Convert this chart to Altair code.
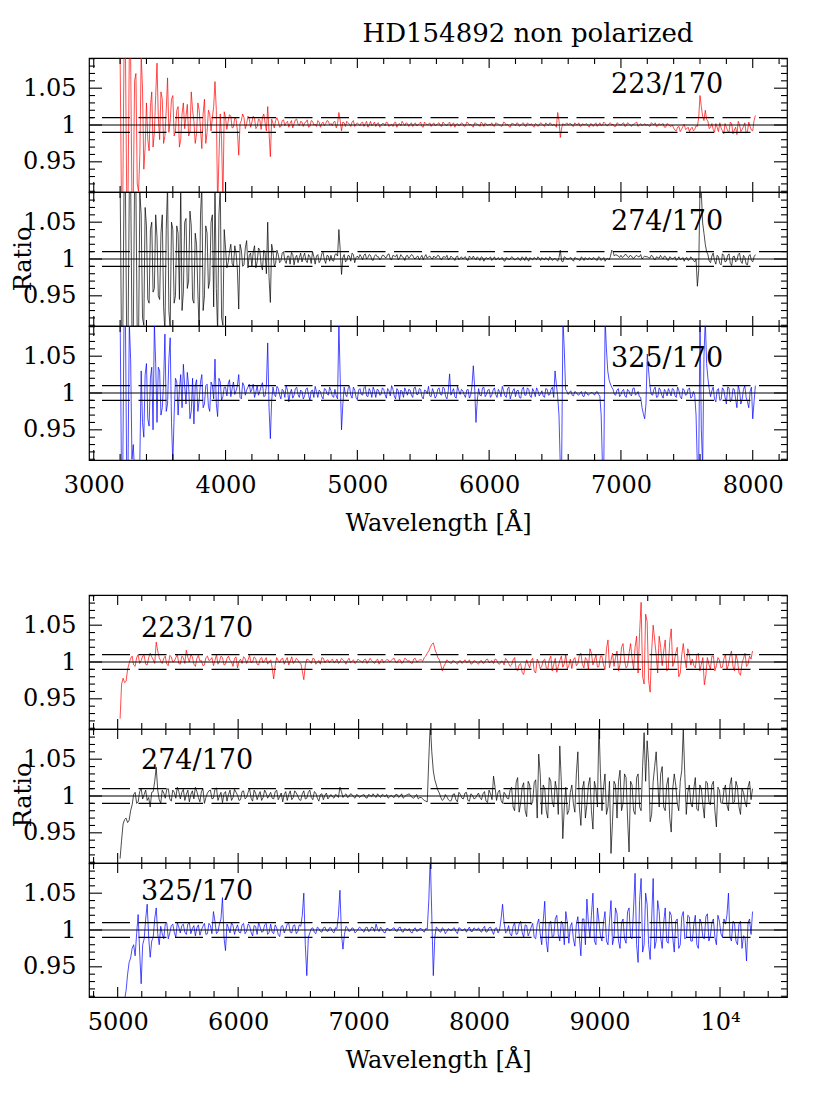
import altair as alt
import numpy as np
import pandas as pd

FONT = "DejaVu Serif"
W, H = 698, 134

# ---- wavelength sampling of the read-off spectra (Angstrom) ----
# main samples at START + STEP*i, intermediate samples at START + STEP/2 + STEP*i
TOP_START, TOP_STEP = 3200, 20
BOT_START, BOT_STEP = 5020, 25

# ---- ratio deviations, in units of 0.001 (ratio = 1 + v/1000) ----
top_223_170 = [
    95, -110, 110, -100, 90, -95, 70, -90, 95, -60,
    30, -35, 45, -10, 84, -20, 35, -15, 64, 5,
    40, -8, 25, -20, 30, 12, -15, 45, 5, -12,
    20, -32, 35, -10, 15, 10, 59, -110, 15, -105,
    10, 5, 12, -3, 8, -41, 6, 10, 2, 8,
    4, 9, -2, 7, 10, 3, 25, -43, 2, 6,
    5, -2, 7, 3, -3, 6, 2, 8, -1, 4,
    3, 7, -2, 5, 1, 6, -3, 4, 2, 5,
    2, 4, -4, 17, -8, 3, 5, 1, 4, -2,
    3, -1, 4, 2, -3, 5, 1, -2, 3, 0,
    2, 4, -2, 1, 3, -3, 2, 5, -1, 2,
    1, -2, 3, 0, 4, -3, 2, 1, -2, 3,
    0, 3, -2, 2, -1, 4, 1, -3, 2, 0,
    2, -1, 3, 1, -3, 2, 0, 4, -2, 1,
    1, 3, -2, 2, 0, -1, 3, 1, -3, 2,
    -1, 2, 0, 3, -2, 1, 2, -3, 1, 0,
    2, -2, 1, 3, -1, 0, 17, -17, 2, 1,
    0, 2, -2, 1, 3, -1, 0, 2, -3, 1,
    1, -2, 3, 0, 2, -1, 3, 1, -2, 2,
    0, 3, -1, 2, -2, 1, 4, 0, -1, 2,
    1, -2, 2, 3, -1, 0, 2, -3, 1, -2,
    -4, -8, -2, -6, 1, -5, -9, -3, -6, -2,
    40, 12, 20, 5, -3, -6, 2, -9, -4, -12,
    -3, -10, 2, -7, -13, 0, -6, 3, -9, -2,
    -8, 13,
]
top_223_170_mid = [
    -100, 105, -95, 100, -105, 60, -80, -40, 50, -30,
    -20, 25, -30, 40, 10, 45, -25, 20, -10, 35,
    -15, 20, -30, 15, -5, 28, -10, 20, -25, 30,
    -5, 15, -25, 20, -8, 25, 20, -45, -20, 18,
    -6, 14, -4, 10, -8, 2, 15, -5, 12, -3,
    12, -5, 8, -6, 15, -8, -10, 8, -4, 10,
    -3, 6, -1, 5, 2, -4, 7, 1, 5, -2,
    4, -3, 6, 0, -2, 4, 2, -1, 6, 0,
    -1, 5, 2, 6, 4, -2, 3, -2, 6, 1,
    1, 3, -2, 5, 0, -1, 4, 2, -3, 2,
    -1, 3, 0, -2, 4, 1, -1, 2, 3, -2,
    3, 1, -1, 2, -2, 4, 0, 3, 1, -1,
    2, -1, 4, 0, 2, -2, 3, 1, -1, 3,
    -2, 4, 0, -1, 3, 1, -2, 2, 3, -1,
    0, -1, 3, 1, -2, 4, 0, -2, 2, 1,
    3, -2, 2, -1, 3, 0, -1, 2, -2, 3,
    0, 3, -1, 2, 1, -3, 6, -4, 0, 3,
    2, -1, 3, 0, -2, 2, 1, -1, 2, -2,
    3, 0, -1, 4, -1, 2, 0, -2, 3, 0,
    2, -2, 3, 0, 1, 3, -2, 2, 0, -1,
    -1, 3, 0, -2, 2, 1, -3, 2, -1, 0,
    -7, -3, -9, -2, -6, -3, -5, -8, -1, 10,
    25, 6, 8, -5, 2, -10, -3, 3, -8, 2,
    -8, 4, -12, -3, 5, -9, -2, -11, 4, -7,
    6,
]
top_274_170 = [
    110, -110, 105, -110, 110, -100, 95, -110, 60, -90,
    45, -60, 50, -40, 30, -55, 60, -100, 100, -95,
    40, -50, 35, 100, -45, 55, -30, 45, -60, 20,
    -100, 100, -50, 35, -30, 60, 100, -100, 100, -90,
    15, -5, 20, -10, 8, -68, 12, -8, 25, 5,
    -10, 18, -4, 12, -15, 8, 50, -59, 10, -6,
    6, -3, 10, -6, 4, 9, -8, 5, 2, -4,
    8, -5, 3, 10, -7, 6, -2, 9, -6, 4,
    5, -3, 7, 40, -21, 6, -2, 4, 8, -5,
    4, 6, -1, 7, 2, 5, -2, 6, 3, 1,
    5, 2, 7, -1, 4, 6, 1, 3, -2, 5,
    3, 5, 0, 4, 2, -1, 6, 3, 1, 4,
    2, 4, -1, 3, 5, 0, 2, -2, 4, 1,
    0, 3, -2, 2, 4, -1, 1, 3, -3, 2,
    1, -2, 3, 0, -1, 2, -3, 1, 0, 2,
    -1, 2, -2, 1, 3, -3, 0, 2, -1, 1,
    2, -1, 0, 3, -2, 1, -3, 12, -4, 2,
    0, 2, -3, 1, -1, 3, -2, 0, 2, -1,
    1, -2, 2, 0, -3, 1, 3, 10, 6, 4,
    5, 3, 6, 2, 4, 1, 5, 3, 0, 4,
    3, 1, 4, -1, 2, 5, 0, 3, -2, 2,
    1, -2, 3, 0, -3, 2, -1, 1, -4, -37,
    100, 49, 20, 6, -5, 8, -7, 3, -8, 5,
    -3, 7, -9, 4, -2, 8, -6, 2, -8, 6,
    -4, 6,
]
top_274_170_mid = [
    -105, 100, -110, 100, -95, 110, -105, 90, -80, 70,
    -55, 40, -45, 60, -50, 35, -65, 40, -70, 50,
    -60, 45, -55, -70, 50, -40, 65, -55, 35, -45,
    60, -70, 45, -40, 50, -65, -40, 60, -80, 40,
    -12, 10, -6, 18, -15, 20, -10, 15, -12, 8,
    10, -12, 15, -8, 12, -20, -25, 20, -10, 12,
    -5, 8, -2, 4, -7, 6, 2, -5, 8, 3,
    -2, 6, -6, 3, 4, -5, 7, -1, 5, -3,
    -2, 6, 4, 12, 2, -4, 5, -3, 6, 2,
    1, 3, 5, 0, 6, -1, 4, 3, -1, 5,
    2, 6, 0, 5, 3, -1, 6, 2, 4, 1,
    6, 1, 3, -1, 5, 3, 1, 4, 0, 2,
    5, 0, 3, 2, -1, 4, 1, 3, -1, 3,
    2, -1, 4, 0, 1, 3, -2, 2, 1, 0,
    3, 0, -1, 2, 1, -2, 2, -1, 3, -1,
    1, -1, 3, -2, 0, 2, -1, 1, 3, -2,
    0, 2, -2, 1, 0, -1, 2, -3, 3, 0,
    1, -1, 2, 0, -2, 1, 2, -1, 0, 2,
    -1, 3, -2, 2, 0, -1, 12, 4, 5, 2,
    2, 6, 3, 5, 1, 4, 3, 6, 2, 3,
    2, 5, 0, 3, 1, 2, 4, -1, 3, 0,
    3, 0, -1, 2, 1, -2, 3, -2, 0, -15,
    90, 35, 10, -3, 4, -2, 5, -6, 7, -4,
    5, -6, 3, -4, 6, -3, 5, -7, 4, -2,
    3,
]
top_325_170 = [
    110, -110, 110, -100, 45, -70, -100, -95, 30, -60,
    40, -45, 35, 95, -40, 30, -20, 80, -15, 75,
    -95, 20, -30, 25, 39, -15, 10, -25, -42, 18,
    -10, 25, -15, 12, -25, 10, 46, -32, 15, -5,
    8, 12, -5, 15, 3, 25, -8, 10, 4, 12,
    5, -6, 10, 2, 14, -4, 68, -62, 8, -5,
    6, -8, 3, 10, -12, 5, -3, 8, -6, 2,
    -4, 7, -10, 4, 9, -6, 2, -8, 5, -3,
    3, -6, -4, 95, -50, 8, -5, 10, -7, 4,
    -9, 6, -3, 9, -5, 2, 8, -6, 4, -2,
    5, -7, 3, 10, -4, 6, -9, 2, 7, -3,
    4, -6, 8, -2, 5, -8, 3, 9, -5, 1,
    -4, 7, -3, 6, -8, 26, 2, -5, 9, -2,
    3, -6, 5, -3, 37, -40, 6, -4, 8, -2,
    5, -3, 7, -6, 2, 9, -4, 6, -8, 3,
    -5, 4, -7, 8, -3, 5, -6, 2, 7, -4,
    3, -6, 5, -2, 8, 30, -5, -100, 100, 5,
    -2, 3, -4, 1, -3, 2, -5, 0, -2, 1,
    -3, 2, -4, -100, 100, 30, 12, 5, -3, 6,
    -2, 5, -6, 3, -4, 7, -1, -5, -20, -35,
    53, 10, -3, 8, -5, 4, -7, 2, 6, -4,
    5, -6, 3, -8, 4, -2, 7, -5, -3, -100,
    100, -100, 100, 20, -5, 8, -12, 6, -9, 4,
    -15, 7, -10, 5, -20, 3, -8, 10, -12, 2,
    -35, 10,
]
top_325_170_mid = [
    -105, 105, -110, 95, -90, -110, -105, -90, -40, 25,
    -35, 20, -50, 40, 35, -30, 15, -25, 45, -40,
    -30, 15, 5, -20, 10, 28, -35, 20, 10, -25,
    15, -20, 10, -18, 15, -8, -15, 20, -10, 8,
    -4, 18, 6, -2, 10, -6, 14, -3, 8, 1,
    12, 1, -3, 9, -5, 10, -20, -10, -2, 9,
    -3, 5, -6, 4, 0, -7, 6, -2, 4, -8,
    5, -3, 3, -6, 2, 4, -5, 6, -1, 8,
    -4, 5, -8, 20, -15, -2, 6, -3, 8, -6,
    4, -2, 7, -4, 6, -6, 3, 5, -3, 7,
    -2, 6, -4, 5, -8, 3, 4, -6, 2, 5,
    -3, 7, -2, 6, -5, 4, -1, -4, 6, -7,
    5, -2, 8, -5, 3, -3, 6, -7, 3, 5,
    -2, 4, -7, 10, 8, -10, -3, 7, -5, 4,
    -6, 4, -2, 5, -5, 3, -6, 8, -2, 6,
    3, -6, 5, -3, 7, -4, 6, -5, 3, -1,
    -4, 6, -3, 5, -6, 12, -30, -100, 60, 2,
    1, -3, 2, -2, 0, -4, 2, -3, 0, -1,
    1, -2, -30, -100, 60, 18, 8, -2, 4, -5,
    3, -4, 5, -2, 6, -3, 2, -6, -28, -15,
    30, -2, 5, -6, 7, -3, 5, -4, 2, 6,
    -4, 8, -5, 6, -3, 5, -7, 2, -30, -100,
    -50, 50, 40, 5, 3, -8, 4, -10, 7, -6,
    8, -12, 6, -8, 10, -15, 5, -6, -20, 8,
    -12,
]
bot_223_170 = [
    -77, -22, -26, -2, 8, -6, 10, 2, 9, -4,
    12, 3, 27, 6, -2, 8, -5, 7, 1, 10,
    -3, 6, 16, 0, 7, -6, 9, 2, -4, 8,
    3, -5, 10, 1, 6, -3, 8, 0, 5, -8,
    4, 7, -2, 9, 0, 5, -4, 6, 2, -3,
    3, -23, 6, -1, 5, 2, -4, 7, 0, 3,
    -2, -24, 4, 1, 5, -3, 2, 6, -1, 3,
    2, -1, 4, 0, 3, -3, 5, 1, -2, 4,
    1, 3, -2, 5, 0, 2, -3, 4, 1, 3,
    2, 5, -1, 3, 0, 4, 2, -2, 5, 1,
    3, 6, 12, 20, 26, 12, 3, -12, -2, 1,
    -2, 1, -3, 2, 0, -1, 3, -2, 1, -3,
    2, -1, 4, 0, -2, 3, -3, 1, 5, -2,
    -4, 6, -12, -2, -17, 3, -8, 5, -15, -1,
    -6, 4, -10, 8, -3, -14, 2, -7, 10, -5,
    -9, 6, -2, 12, -8, 3, 18, -4, 10, -6,
    8, -10, 30, 2, -6, 15, -3, 25, -8, 12,
    5, 20, -15, 81, -30, 55, -41, 50, 10, 35,
    -5, 30, -10, 45, 0, 20, -15, 25, -8, 10,
    4, -8, 12, -3, -31, 6, -10, 8, -5, 3,
    -7, 10, -4, 15, -12, 2, -18, 5, -6, 8,
    15,
]
bot_223_170_mid = [
    -30, -28, -10, 5, -4, 6, -2, 8, -3, 6,
    7, -2, 15, 1, 5, -3, 9, 0, 6, -2,
    8, -2, 6, 10, -3, 5, 1, -5, 6, 2,
    6, 2, -3, 8, -4, 5, 2, -6, 7, 1,
    -2, 5, 3, -1, 7, -3, 4, -1, 6, 0,
    -8, -5, 2, 4, -3, 6, 1, -2, 5, -1,
    -12, -5, 3, -2, 4, 0, -3, 5, 2, -1,
    4, 0, -2, 5, 1, 2, -1, 3, 0, 2,
    -1, 4, 1, 2, -2, 4, 1, -1, 3, 0,
    4, 0, 3, -2, 5, 1, -1, 4, 0, 3,
    1, 8, 15, 24, 18, 6, -4, -6, 3, -1,
    2, -1, 1, -2, 3, 0, -3, 2, -1, 1,
    -2, 3, -1, 2, 4, -2, 1, -4, 2, -6,
    3, -10, -4, -14, -6, -3, 2, -12, 4, -9,
    2, -8, 3, -12, 5, -6, 8, -2, -9, 4,
    3, -5, 9, -3, 6, -10, 12, 2, -7, 8,
    -4, 18, -8, 12, 6, -12, 20, 2, -5, 25,
    -10, 35, 40, -20, 65, -25, 15, 30, -15, 20,
    15, -12, 28, -6, 12, -20, 10, 5, 18, -4,
    -5, 9, -12, 6, -18, -3, 8, -12, 6, -8,
    5, -10, 8, -6, 10, -15, -2, 12, -3, 4,
]
bot_274_170 = [
    -85, -38, -30, -33, -12, 5, -8, 10, 2, -6,
    -15, 6, 39, -5, 8, -3, 10, -7, 5, 12,
    -4, 9, 2, -8, 7, 12, -2, 6, -10, 4,
    8, -3, 11, 0, -9, 6, 2, -6, 9, 1,
    -5, 7, -2, 10, -7, 4, 1, -6, 8, -3,
    5, -4, 8, -1, -8, 6, 2, -5, 7, 0,
    -6, 7, -3, 8, -5, 4, -7, 3, 1, -4,
    2, -3, 1, 12, -2, 3, -1, 2, -3, 1,
    0, 2, -3, 1, 3, -2, 0, 2, -1, -3,
    1, -2, 2, 0, -3, 1, 3, -2, 0, -4,
    -2, -6, -8, 100, 34, 15, 4, -6, 2, -5,
    -6, 3, -8, 2, -4, 5, -7, 1, -3, 4,
    -5, 6, -9, 3, 27, -6, 8, -10, 2, -4,
    12, -20, 25, -10, 18, -28, 15, -8, 22, 57,
    -25, 10, -30, 20, -15, 8, 68, -58, 12, -20,
    15, -22, 60, -40, 20, -12, 25, -45, 10, 100,
    -20, 30, -15, -78, 20, -30, 35, -10, 25, -76,
    15, -25, 30, -20, 86, 75, -35, 20, 60, -15,
    40, -20, 25, -49, 30, -10, 20, 91, -25, 15,
    -15, 25, -20, 10, -30, 18, -12, 20, -42, 8,
    -10, 15, -20, 25, -8, 12, -25, 5, -15, 20,
    10,
]
bot_274_170_mid = [
    -60, -32, -36, -20, 2, -10, 6, -4, 8, -2,
    5, 20, 8, -10, 4, 9, -4, 8, -3, 6,
    5, -6, 8, 2, -4, 6, -8, 10, -2, 7,
    -4, 9, -6, 5, 3, -7, 8, -2, 5, -6,
    6, -4, 5, -3, 8, -5, 6, -2, 4, 1,
    -3, 6, -5, 4, 2, -6, 7, -2, 4, -5,
    3, -4, 5, -2, 6, -3, 2, -5, 4, -1,
    -1, 2, -2, 6, 1, -2, 3, -1, 2, -2,
    1, -2, 2, -1, 0, 3, -2, 1, 2, -1,
    -1, 2, -2, 3, -1, 2, 0, -3, 2, -2,
    -4, -7, 50, 60, 22, 8, -2, -4, -1, -7,
    2, -5, 5, -3, 4, -6, 3, -4, 1, -2,
    3, -7, 8, -5, 12, 5, -6, 5, -3, 8,
    -15, 18, -22, 12, -20, 20, -12, 18, -30, 30,
    15, -20, 25, -8, 20, -25, 20, -15, -25, 5,
    -10, 30, -15, 10, -30, 15, -20, 20, -15, 30,
    10, -25, 20, -35, 15, 20, -20, 30, -30, 20,
    -20, 25, -15, 40, 20, 45, -25, 40, 20, 30,
    -15, 15, -30, 10, 15, -20, 35, 30, 5, -10,
    10, -18, 15, -12, 20, -8, 15, -20, 12, -10,
    8, -12, 15, -10, 20, -15, 10, -8, 12, -5,
]
bot_325_170 = [
    -110, -100, -82, -44, -25, -35, 21, -73, -12, 35,
    -37, -10, 30, -20, -5, 8, -12, 6, -3, 10,
    -4, 8, -6, 10, 2, -8, 7, 0, 9, -5,
    6, 25, -5, 8, 44, -28, 3, 10, -6, 7,
    -4, 9, -2, 6, -8, 5, 10, -3, 7, -6,
    8, -5, 3, -9, 6, 1, 9, -4, 7, -2,
    5, 50, -62, -4, 3, -5, 2, -3, 4, -2,
    3, -4, 2, 54, -26, 5, -2, 3, -4, 1,
    2, -3, 4, -1, 3, 8, -2, 1, -4, 2,
    0, 3, -2, 4, -3, 1, 2, -4, 3, -1,
    2, -3, 1, 100, -62, 4, -2, 3, -5, 2,
    -1, 3, -5, 2, 0, -3, 4, -2, 1, 3,
    -3, 5, -2, 4, -6, 3, 0, 35, -4, 6,
    -8, 10, -5, 12, -10, 6, -3, 9, -12, 15,
    -20, 39, -30, 12, -8, 20, -15, 8, 25, -18,
    10, -22, 18, -35, 15, 42, -10, 50, -20, 12,
    -15, 25, -20, 40, -10, 22, -25, 15, -18, 30,
    -12, 77, -44, 70, -20, 35, -40, 70, -15, 25,
    -25, 30, -18, 20, -30, 15, -20, 25, -10, 18,
    -15, 20, -25, 10, -12, 22, -8, 15, -20, 12,
    -10, 8, 50, -15, 10, -20, 12, -8, -42, 15,
    25,
]
bot_325_170_mid = [
    -105, -95, -60, -38, -20, -5, -30, -20, 15, -10,
    -15, 15, -5, 5, -12, 10, -4, 8, -10, 4,
    6, -3, 8, -5, 6, 3, -7, 5, -6, 9,
    -5, 12, -2, 15, -10, 8, -4, 6, 2, -3,
    7, -5, 8, -3, 6, -6, 4, -2, 9, -3,
    -3, 7, -6, 5, -4, 8, -3, 6, -5, 7,
    20, -20, -10, 2, -3, 4, -2, 3, -1, 3,
    -2, 3, 20, -5, -6, 3, -1, 2, -2, 4,
    -1, 3, -2, 4, -2, 1, 4, -3, 2, -1,
    2, -1, 3, -2, 2, -1, -3, 1, -2, 2,
    -1, 2, 40, 20, -10, 2, -3, 1, -2, 0,
    2, -2, 3, -1, 2, 1, -2, 3, 0, -1,
    2, -3, 3, -1, 2, -4, 15, 10, -2, -5,
    5, -6, 8, -3, 7, -8, 4, -10, 8, -5,
    12, -15, 10, -10, 15, -6, 12, -20, 10, 5,
    -12, 8, -10, 15, -20, 10, 20, -15, 30, -8,
    10, -15, 12, -20, 30, -15, 10, -12, 25, -10,
    30, -20, 40, -30, 50, -20, 15, -25, 40, -10,
    10, -15, 25, -10, 12, -25, 18, -12, 20, -15,
    8, -20, 15, -10, 18, -15, 10, -10, 20, -5,
    15, 20, -10, 12, -15, 8, -25, -10, 10, -6,
]

# ---- axes ----
TOP_XDOMAIN = [2964, 8260]
BOT_XDOMAIN = [4762, 10556]
YDOMAIN = [0.909, 1.091]

TOP_X_LABELS = [3000, 4000, 5000, 6000, 7000, 8000]
TOP_X_MINOR = [3200, 3400, 3600, 3800, 4200, 4400, 4600, 4800, 5200, 5400, 5600, 5800,
               6200, 6400, 6600, 6800, 7200, 7400, 7600, 7800, 8200]
BOT_X_LABELS = [5000, 6000, 7000, 8000, 9000, 10000]
BOT_X_MINOR = [4800, 5200, 5400, 5600, 5800, 6200, 6400, 6600, 6800, 7200, 7400, 7600, 7800,
               8200, 8400, 8600, 8800, 9200, 9400, 9600, 9800, 10200, 10400]
Y_LABELS = [0.95, 1.0, 1.05]
Y_MINOR = [0.91, 0.92, 0.93, 0.94, 0.96, 0.97, 0.98, 0.99,
           1.01, 1.02, 1.03, 1.04, 1.06, 1.07, 1.08, 1.09]
REF_SOLID = [1.0]
REF_DASHED = [0.99, 1.01]

TITLE = "HD154892 non polarized"
X_TITLE = "Wavelength [Å]"
Y_TITLE = "Ratio"


def series(start, step, main, mid):
    wl = np.concatenate([start + step * np.arange(len(main)),
                         start + step / 2 + step * np.arange(len(mid))])
    dev = np.concatenate([np.asarray(main, dtype=float), np.asarray(mid, dtype=float)])
    order = np.argsort(wl, kind="stable")
    return pd.DataFrame({"wl": wl[order], "ratio": 1 + dev[order] / 1000.0})


def panel(df, color, label, lx, ly, xdom, xmaj, xmin, with_xaxis, extra=()):
    xs = alt.Scale(domain=xdom, nice=False, zero=False)
    ys = alt.Scale(domain=YDOMAIN, nice=False, zero=False)
    if with_xaxis:
        xaxis = alt.Axis(values=xmaj, format="d",
                         labelExpr="datum.value == 10000 ? '10\u2074' : datum.label",
                         title=X_TITLE, domain=False, ticks=False, tickSize=0, grid=False,
                         labelFont=FONT, labelFontSize=24, labelPadding=13, labelColor="black",
                         labelFlush=False, labelOverlap=False,
                         titleFont=FONT, titleFontSize=24, titleFontWeight="normal",
                         titlePadding=14, titleColor="black")
    else:
        xaxis = None
    yaxis = alt.Axis(values=Y_LABELS,
                     labelExpr="datum.value == 1 ? '1' : format(datum.value, '.2f')",
                     title=None, domain=False, ticks=False, tickSize=0, grid=False,
                     labelFont=FONT, labelFontSize=24, labelPadding=13, labelColor="black",
                     labelOverlap=False)

    def X(f):
        return alt.X(f, type="quantitative", scale=xs, axis=xaxis)

    def Y(f):
        return alt.Y(f, type="quantitative", scale=ys, axis=yaxis)

    layers = []
    layers.append(alt.Chart(df).mark_line(color=color, strokeWidth=0.7, clip=True)
                  .encode(x=X("wl"), y=Y("ratio")))
    layers.append(alt.Chart(pd.DataFrame({"y": REF_DASHED}))
                  .mark_rule(color="black", strokeWidth=1.1, strokeDash=[28, 8.5])
                  .encode(y=Y("y")))
    layers.append(alt.Chart(pd.DataFrame({"y": REF_SOLID}))
                  .mark_rule(color="black", strokeWidth=1.1)
                  .encode(y=Y("y")))

    for vals, ln in ((xmaj, 10), (xmin, 6)):
        base = alt.Chart(pd.DataFrame({"v": vals}))
        layers.append(base.mark_rule(color="black", strokeWidth=1.1)
                      .encode(x=X("v"), y=alt.value(H), y2=alt.value(H - ln)))
        layers.append(base.mark_rule(color="black", strokeWidth=1.1)
                      .encode(x=X("v"), y=alt.value(0), y2=alt.value(ln)))
    for vals, ln in ((Y_LABELS, 13), (Y_MINOR, 6)):
        base = alt.Chart(pd.DataFrame({"v": vals}))
        layers.append(base.mark_rule(color="black", strokeWidth=1.1)
                      .encode(y=Y("v"), x=alt.value(0), x2=alt.value(ln)))
        layers.append(base.mark_rule(color="black", strokeWidth=1.1)
                      .encode(y=Y("v"), x=alt.value(W), x2=alt.value(W - ln)))

    layers.append(alt.Chart(pd.DataFrame({"t": [label]}))
                  .mark_text(font=FONT, fontSize=27, align="left", baseline="alphabetic", color="black")
                  .encode(text="t:N", x=alt.value(lx), y=alt.value(ly)))
    layers.extend(extra)
    return alt.layer(*layers).properties(width=W, height=H)


def free_text(txt, x, y, size, angle=0, align="center"):
    mark = dict(font=FONT, fontSize=size, align=align, baseline="alphabetic", color="black")
    if angle:
        mark["angle"] = angle
    return (alt.Chart(pd.DataFrame({"t": [txt]})).mark_text(**mark)
            .encode(text="t:N", x=alt.value(x), y=alt.value(y)))


title_txt = free_text(TITLE, 439, -16, 26)
ratio_top = free_text(Y_TITLE, -58, 67, 24, angle=270)
ratio_bot = free_text(Y_TITLE, -58, 66, 24, angle=270)

p1 = panel(series(TOP_START, TOP_STEP, top_223_170, top_223_170_mid), "#ff0000", "223/170", 522, 35,
           TOP_XDOMAIN, TOP_X_LABELS, TOP_X_MINOR, False, [title_txt])
p2 = panel(series(TOP_START, TOP_STEP, top_274_170, top_274_170_mid), "#000000", "274/170", 522, 38,
           TOP_XDOMAIN, TOP_X_LABELS, TOP_X_MINOR, False, [ratio_top])
p3 = panel(series(TOP_START, TOP_STEP, top_325_170, top_325_170_mid), "#0000ff", "325/170", 522, 41,
           TOP_XDOMAIN, TOP_X_LABELS, TOP_X_MINOR, True)

p4 = panel(series(BOT_START, BOT_STEP, bot_223_170, bot_223_170_mid), "#ff0000", "223/170", 52, 42,
           BOT_XDOMAIN, BOT_X_LABELS, BOT_X_MINOR, False)
p5 = panel(series(BOT_START, BOT_STEP, bot_274_170, bot_274_170_mid), "#000000", "274/170", 52, 40,
           BOT_XDOMAIN, BOT_X_LABELS, BOT_X_MINOR, False, [ratio_bot])
p6 = panel(series(BOT_START, BOT_STEP, bot_325_170, bot_325_170_mid), "#0000ff", "325/170", 52, 37,
           BOT_XDOMAIN, BOT_X_LABELS, BOT_X_MINOR, True)

top_group = alt.vconcat(p1, p2, p3, spacing=0, bounds="flush")
bot_group = alt.vconcat(p4, p5, p6, spacing=0, bounds="flush")

chart = (alt.vconcat(top_group, bot_group, spacing=57)
         .properties(padding={"left": 3, "top": 12, "right": 10, "bottom": 10},
                     background="white")
         .configure_view(stroke="black", strokeWidth=1.2))

chart.save("out.html", embed_options={"renderer": "svg", "actions": False})
